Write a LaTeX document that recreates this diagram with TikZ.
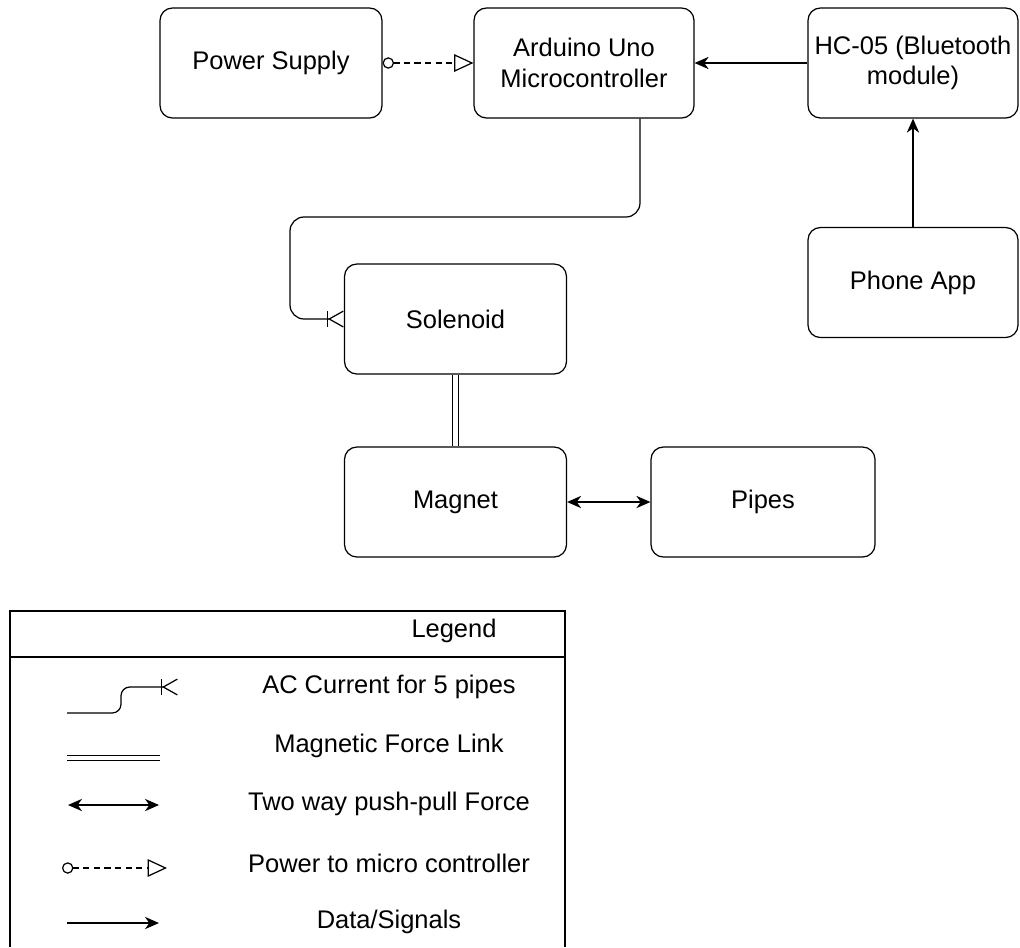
\documentclass[tikz,border=0pt]{standalone}
\usepackage{fontspec}
\setmainfont{Liberation Sans}
\usetikzlibrary{arrows.meta, positioning, calc}

\newcommand{\blockfont}{\fontsize{14.5pt}{17.5pt}\selectfont}

\tikzset{
  blockbox/.style={draw, line width=0.7pt, rounded corners=7pt, minimum width=4.44cm,
    minimum height=2.2cm, align=center, inner sep=2pt, font=\blockfont},
  legendtext/.style={inner sep=1pt, font=\blockfont},
  datalink/.style={line width=0.7pt, -{Stealth[length=8pt,width=7pt,inset=2.5pt]}},
  forcelink/.style={line width=0.7pt,
    {Stealth[length=8pt,width=7pt,inset=2.5pt]}-{Stealth[length=8pt,width=7pt,inset=2.5pt]}},
  maglink/.style={double, double distance=2.6pt, line width=0.6pt},
  powerlink/.style={line width=0.7pt, dash pattern=on 3.5pt off 2.5pt,
    {Circle[open,length=6.5pt]}-{Triangle[open,length=11pt,width=10pt]}},
  aclink/.style={line width=0.7pt, rounded corners=8pt,
    -{Bar[width=9pt] Straight Barb[reversed,length=8pt,width=9pt]}},
  legendline/.style={line width=1.3pt},
}

\begin{document}
\begin{tikzpicture}[x=0.02cm, y=-0.02cm]
\useasboundingbox (0,0) rectangle (1020,947);

% blocks
\node[blockbox] (psu) at (271,63) {Power Supply};
\node[blockbox, minimum width=4.4cm] (ard) at (584,63) {Arduino Uno\\Microcontroller};
\node[blockbox, minimum width=4.2cm] (hc) at (913,63) {HC-05 (Bluetooth\\module)};
\node[blockbox, minimum width=4.2cm] (app) at (913,282.5) {Phone App};
\node[blockbox] (sol) at (455.5,319) {Solenoid};
\node[blockbox] (mag) at (455.5,502) {Magnet};
\node[blockbox, minimum width=4.48cm] (pipe) at (763,502) {Pipes};

% links
\draw[powerlink] (psu) -- (ard);
\draw[datalink] (hc) -- (ard);
\draw[datalink] (app) -- (hc);
\draw[aclink] ($(ard.south)+(56,0)$) |- (290,217) |- (sol.west);
\draw[maglink] (sol) -- (mag);
\draw[forcelink] (mag) -- (pipe);

% legend
\draw[legendline] (10,947) -- (10,611) -- (565,611) -- (565,947);
\draw[legendline] (10,657) -- (565,657);
\node[legendtext] (legtitle) at (454,631) {Legend};
\foreach \y/\txt [count=\i] in {687/AC Current for 5 pipes, 746/Magnetic Force Link,
    804/Two way push-pull Force, 863/Power to micro controller, 922/{Data/Signals}}
  \node[legendtext] (leg\i) at (389,\y) {\txt};

\draw[aclink, rounded corners=5pt] (67,713) -- (121,713) -- (121,687) -- (178,687);
\draw[maglink] (67,758) -- (160,758);
\draw[forcelink] (68,805) -- (159,805);
\draw[powerlink] (62,868) -- (167,868);
\draw[datalink] (67,923) -- (159,923);
\end{tikzpicture}
\end{document}
